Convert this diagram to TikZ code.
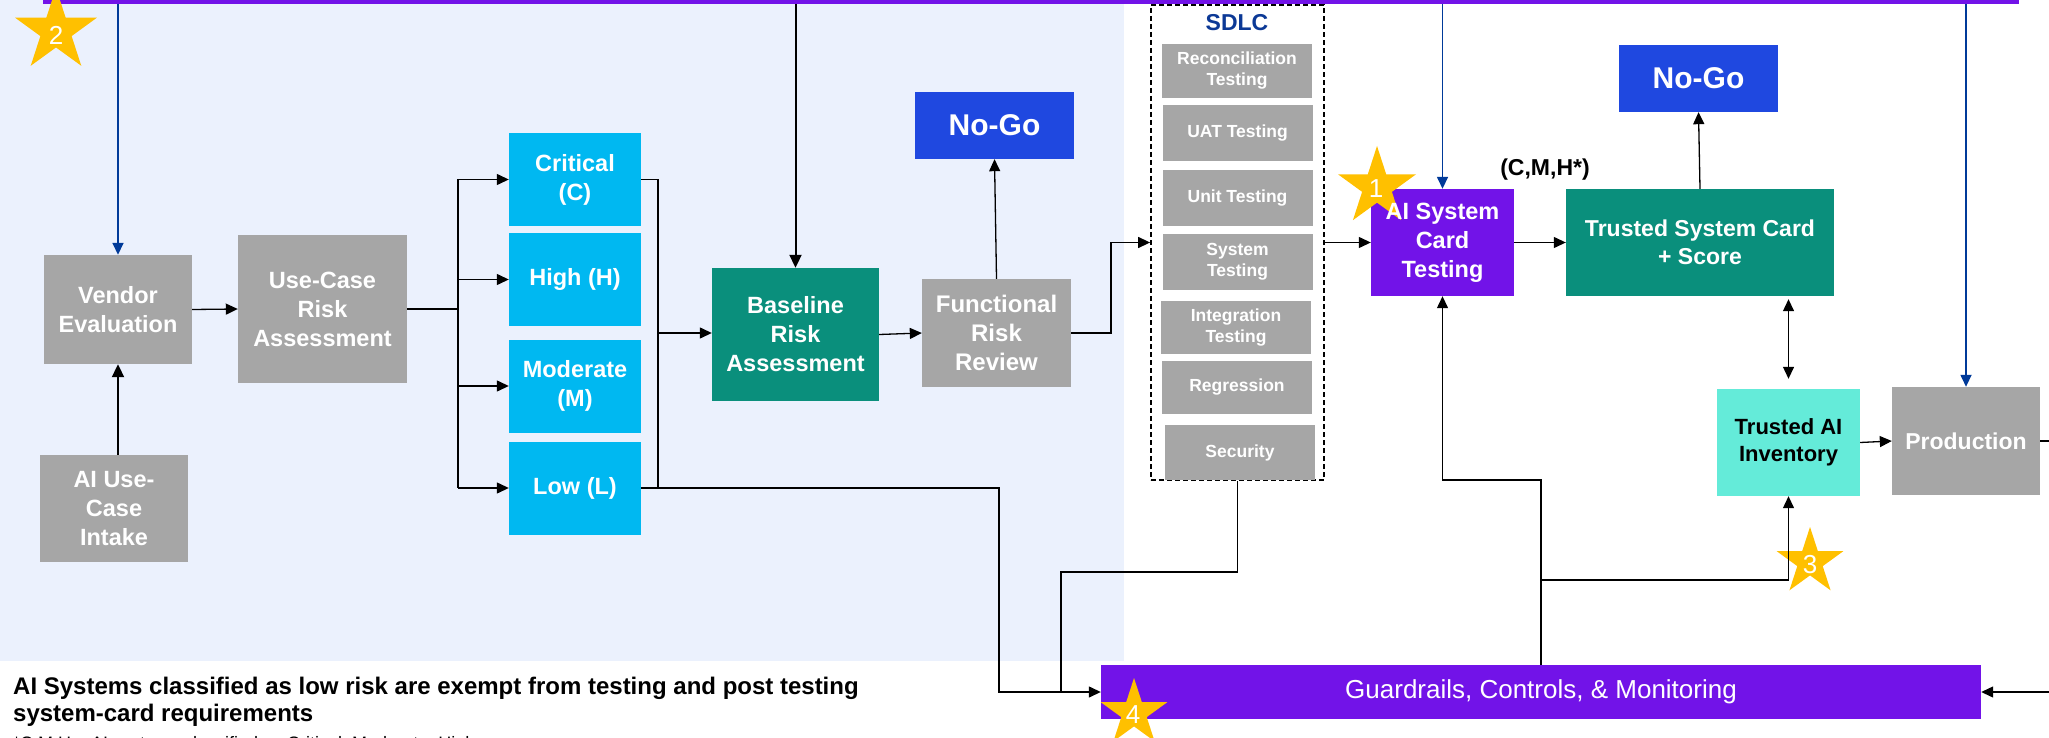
\documentclass[tikz,border=0pt]{standalone}
\usepackage{fontspec}
\setmainfont{Liberation Sans}
\usetikzlibrary{arrows.meta,shapes.geometric}
\definecolor{cgray}{HTML}{A6A6A6}
\definecolor{ccyan}{HTML}{00B8F1}
\definecolor{cteal}{HTML}{0A8F7C}
\definecolor{cnogo}{HTML}{1F48E0}
\definecolor{cpurple}{HTML}{7213E8}
\definecolor{caqua}{HTML}{64EBD9}
\definecolor{cbg}{HTML}{EBF1FD}
\definecolor{cstar}{HTML}{FFC000}
\definecolor{cblue}{HTML}{003A99}
\definecolor{csdlc}{HTML}{0C3996}
\begin{document}
\begin{tikzpicture}[x=1pt,y=-1pt,
  boxtext/.style={rectangle, inner sep=0pt, align=center, text=white, font=\fontsize{23.5}{29}\selectfont\bfseries},
  graybox/.style={boxtext, fill=cgray},
  tealbox/.style={boxtext, fill=cteal},
  purplebox/.style={boxtext, fill=cpurple},
  riskbox/.style={boxtext, fill=ccyan, minimum width=132pt, minimum height=93pt},
  nogo/.style={boxtext, fill=cnogo, minimum width=159pt, minimum height=67pt, font=\fontsize{30}{34}\selectfont\bfseries},
  sbox/.style={rectangle, inner sep=0pt, align=center, text=white, fill=cgray, minimum width=150pt, minimum height=54pt, font=\fontsize{17.5}{21}\selectfont\bfseries},
  sdlcframe/.style={rectangle, draw=black, line width=1.8pt, dash pattern=on 5pt off 3pt, inner sep=0pt},
  starshape/.style={star, star points=5, star point ratio=2.618, fill=cstar, draw=none, inner sep=0pt, minimum size=#1},
  starnum/.style={inner sep=0pt, text=white, font=\fontsize{26}{26}\selectfont},
  line/.style={draw=black, line width=1.3pt},
  arr/.style={draw=black, line width=1.3pt, -{Triangle[length=12pt,width=11pt]}},
  darr/.style={draw=black, line width=1.3pt, {Triangle[length=12pt,width=11pt]}-{Triangle[length=12pt,width=11pt]}},
  karr/.style={draw=black, line width=2pt, -{Triangle[length=13pt,width=12pt]}},
  barr/.style={draw=cblue, line width=1.6pt, -{Triangle[length=12pt,width=11pt]}}
]
\useasboundingbox (0,0) rectangle (2049,738);
\clip (0,0) rectangle (2049,738);
\fill[white] (0,0) rectangle (2049,738);
\fill[cbg] (0,0) rectangle (1124,661);

\node[rectangle, fill=cpurple, inner sep=0pt, minimum width=1976pt, minimum height=4pt] (topbar) at (1031,2) {};

% left part
\node[graybox, minimum width=148pt, minimum height=109pt] (vendor) at (118,309.5) {Vendor\\Evaluation};
\node[graybox, minimum width=169pt, minimum height=148pt] (usecase) at (322.5,309) {Use-Case\\Risk\\Assessment};
\node[graybox, minimum width=148pt, minimum height=107pt] (intake) at (114,508.5) {AI Use-\\Case\\Intake};
\node[riskbox] (critical) at (575,179.5) {Critical\\(C)};
\node[riskbox] (high) at (575,279.5) {High (H)};
\node[riskbox] (moderate) at (575,386) {Moderate\\(M)};
\node[riskbox] (low) at (575,488) {Low (L)};
\node[tealbox, minimum width=167pt, minimum height=133pt] (baseline) at (795.5,334.5) {Baseline\\Risk\\Assessment};
\node[graybox, minimum width=149pt, minimum height=108pt, font=\fontsize{24}{29}\selectfont\bfseries] (functional) at (996.5,333) {Functional\\Risk\\Review};
\node[nogo] (nogo1) at (994.5,125.5) {No-Go};

% SDLC
\node[sdlcframe, minimum width=173pt, minimum height=475pt] (sdlc) at (1237.5,242.5) {};
\node[inner sep=0pt, text=csdlc, font=\fontsize{23}{23}\selectfont\bfseries] (sdlctitle) at (1237,23) {SDLC};
\node[sbox] (recon) at (1237,71) {Reconciliation\\Testing};
\node[sbox, minimum height=56pt] (uat) at (1237.5,133) {UAT Testing};
\node[sbox, minimum height=56pt] (unit) at (1237.5,198) {Unit Testing};
\node[sbox, minimum height=56pt] (system) at (1237.5,262) {System\\Testing};
\node[sbox, minimum height=53pt] (integration) at (1236,327.5) {Integration\\Testing};
\node[sbox, minimum height=53pt] (regression) at (1237,387.5) {Regression};
\node[sbox, minimum height=55pt] (security) at (1240,452.5) {Security};

% right part
\node[purplebox, minimum width=143pt, minimum height=107pt] (aicard) at (1442.5,242.5) {};
\node[starshape=82pt] (s1) at (1377,187) {};
\node[starnum] (n1) at (1376,189) {1};
\node[boxtext] (aicardtext) at (aicard) {AI System\\Card\\Testing};
\node[tealbox, minimum width=268pt, minimum height=107pt, font=\fontsize{23}{28}\selectfont\bfseries] (tsc) at (1700,242.5) {Trusted System Card\\+ Score};
\node[nogo] (nogo2) at (1698.5,78.5) {No-Go};
\node[boxtext, fill=caqua, text=black, minimum width=143pt, minimum height=107pt, font=\fontsize{22}{27}\selectfont\bfseries] (inventory) at (1788.5,442.5) {Trusted AI\\Inventory};
\node[graybox, minimum width=148pt, minimum height=108pt, font=\fontsize{23}{28}\selectfont\bfseries] (production) at (1966,441) {Production};
\node[rectangle, inner sep=0pt, fill=cpurple, text=white, minimum width=880pt, minimum height=54pt, font=\fontsize{26}{30}\selectfont] (guard) at (1541,692) {Guardrails, Controls, \& Monitoring};
\node[inner sep=0pt, font=\fontsize{23}{23}\selectfont\bfseries] (cmh) at (1545,170) {(C,M,H*)};

% stars
\node[starshape=86pt] (s2) at (56,31) {};
\node[starnum] (n2) at (56,35) {2};
\node[starshape=70pt] (s3) at (1810,562) {};
\node[starnum] (n3) at (1810,565) {3};

% coordinates
\coordinate (busL) at (458,309);
\coordinate (busR) at (658,333);
\coordinate (fbend) at (1111,333);
\coordinate (lowbend) at (999,488);
\coordinate (merge) at (1061,692);
\coordinate (secbend) at (1237.5,572);
\coordinate (gtop1) at (1541,480);
\coordinate (gtop2) at (1541,580);
\coordinate (rightout) at (2070,441);
\coordinate (rightin) at (2070,692);

% connectors
\draw[barr] (topbar.south -| vendor.north) -- (vendor.north);
\draw[karr] (topbar.south -| baseline.north) -- (baseline.north);
\draw[barr] (topbar.south -| aicard.north) -- (aicard.north);
\draw[barr] (topbar.south -| production.north) -- (production.north);
\draw[karr] (intake.north -| vendor.south) -- (vendor.south);
\draw[arr] (vendor.east) -- (usecase.west);
\draw[line] (usecase.east) -- (busL);
\draw[line] (busL |- critical.west) -- (busL |- low.west);
\foreach \n in {critical,high,moderate,low} \draw[arr] (busL |- \n.west) -- (\n.west);
\draw[line] (critical.east) -- (critical.east -| busR) -- (low.east -| busR);
\draw[arr] (busR) -- (baseline.west |- busR);
\draw[arr] (baseline.east) -- (functional.west);
\draw[arr] (functional.north) -- (nogo1.south);
\draw[arr] (functional.east) -- (fbend) |- (sdlc.west);
\draw[arr] (sdlc.east) -- (aicard.west);
\draw[arr] (aicard.east) -- (tsc.west);
\draw[arr] (tsc.north) -- (nogo2.south);
\draw[darr, shorten <=3pt, shorten >=10pt] (tsc.south -| inventory.north) -- (inventory.north);
\draw[arr] (inventory.east) -- (production.west);
\draw[line] (production.east) -- (rightout);
\draw[arr] (rightin) -- (guard.east);
\draw[arr] (low.east) -- (lowbend) |- (guard.west);
\draw[line] (sdlc.south) -- (secbend) -| (merge);
\draw[arr] (guard.north) -- (gtop1) -| (aicard.south);
\draw[arr] (gtop2) -| (inventory.south);

\node[starshape=70pt] (s4) at (1134,713) {};
\node[starnum] (n4) at (1133,715) {4};

% notes
\node[anchor=base west, inner sep=0pt, font=\fontsize{24}{28}\selectfont\bfseries] (note1) at (13,694.5) {AI Systems classified as low risk are exempt from testing and post testing};
\node[anchor=base west, inner sep=0pt, font=\fontsize{24}{28}\selectfont\bfseries] (note2) at (13,721.5) {system-card requirements};
\node[anchor=base west, inner sep=0pt, font=\fontsize{18}{22}\selectfont] (note3) at (13,749) {*C,M,H – AI systems classified as Critical, Moderate, High};
\end{tikzpicture}
\end{document}
